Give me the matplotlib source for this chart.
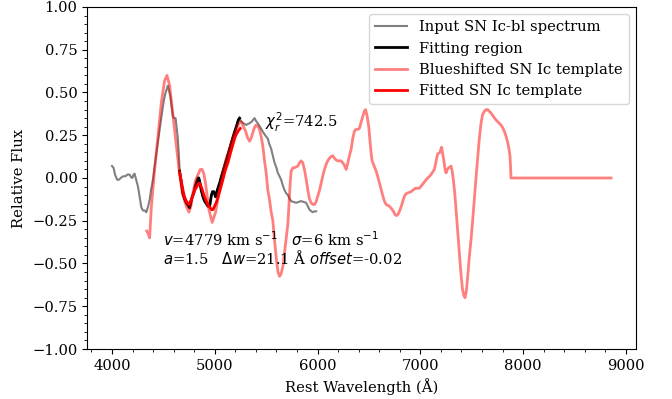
import numpy as np
import matplotlib
matplotlib.use("Agg")
import matplotlib.pyplot as plt
from matplotlib.ticker import MultipleLocator

plt.rcParams['font.family'] = 'DejaVu Serif'
plt.rcParams['font.size'] = 10.6

# input SN Ic-bl spectrum
input_wave = [4000, 4015, 4030, 4050, 4068, 4085, 4107, 4130, 4150, 4172, 4185, 4198, 4210, 4220,
              4235, 4253, 4269, 4285, 4301, 4318, 4334, 4350, 4366, 4380, 4398, 4420, 4447, 4470,
              4496, 4510, 4522, 4533, 4544, 4555, 4567, 4580, 4593, 4605, 4619, 4630, 4641, 4650,
              4658, 4668, 4680, 4690, 4705, 4723, 4740, 4755, 4765, 4780, 4794, 4810, 4825, 4836,
              4845, 4856, 4868, 4885, 4901, 4918, 4933, 4950, 4966, 4978, 4990, 5000, 5008, 5025,
              5047, 5070, 5095, 5120, 5144, 5168, 5193, 5215, 5230, 5241, 5257, 5280, 5306, 5320,
              5338, 5360, 5387, 5400, 5419, 5440, 5468, 5490, 5516, 5530, 5549, 5565, 5581, 5600,
              5613, 5630, 5646, 5660, 5678, 5695, 5711, 5727, 5743, 5765, 5792, 5815, 5840, 5865,
              5889, 5905, 5921, 5940, 5953, 5970, 5986]
input_flux = [0.07, 0.06, 0.02, -0.01, -0.01, 0.0, 0.01, 0.01, 0.02, 0.02, 0.005, 0.0, 0.02, 0.025,
              -0.01, -0.05, -0.11, -0.17, -0.19, -0.19, -0.2, -0.17, -0.13, -0.07, -0.01, 0.09, 0.21, 0.31,
              0.42, 0.47, 0.50, 0.52, 0.54, 0.51, 0.48, 0.42, 0.36, 0.35, 0.35, 0.29, 0.23, 0.14,
              0.04, 0.0, -0.05, -0.09, -0.12, -0.145, -0.16, -0.175, -0.15, -0.11, -0.09, -0.05, -0.02, 0.0,
              0.0, -0.03, -0.07, -0.11, -0.135, -0.15, -0.165, -0.165, -0.105, -0.08, -0.08, -0.095, -0.11, -0.07,
              -0.03, 0.02, 0.07, 0.12, 0.17, 0.22, 0.27, 0.31, 0.34, 0.35, 0.33, 0.32, 0.31, 0.315,
              0.32, 0.33, 0.35, 0.335, 0.32, 0.30, 0.27, 0.25, 0.23, 0.20, 0.17, 0.13, 0.09, 0.06,
              0.03, 0.01, -0.01, -0.04, -0.07, -0.09, -0.10, -0.12, -0.135, -0.14, -0.145, -0.14, -0.135, -0.14,
              -0.145, -0.165, -0.185, -0.195, -0.2, -0.195, -0.195]

# fitting region limits
fit_lo, fit_hi = 4658, 5241

# blueshifted SN Ic template
tmpl_wave = [4338, 4355, 4366, 4383, 4415, 4447, 4480, 4512, 4535, 4561, 4587, 4619, 4652, 4684,
             4723, 4749, 4770, 4787, 4810, 4836, 4860, 4878, 4895, 4910, 4943, 4975, 5008, 5040,
             5079, 5110, 5144, 5175, 5209, 5235, 5257, 5280, 5299, 5320, 5338, 5355, 5370, 5390,
             5403, 5420, 5435, 5452, 5468, 5484, 5500, 5516, 5532, 5549, 5565, 5581, 5600, 5615,
             5630, 5645, 5662, 5680, 5695, 5711, 5720, 5727, 5735, 5743, 5760, 5775, 5808, 5825,
             5840, 5856, 5872, 5890, 5905, 5920, 5937, 5955, 5970, 5985, 6002, 6020, 6035, 6050,
             6067, 6090, 6109, 6130, 6148, 6165, 6181, 6200, 6229, 6250, 6265, 6278, 6295, 6310,
             6327, 6342, 6359, 6375, 6395, 6407, 6425, 6440, 6455, 6466, 6480, 6490, 6498, 6510,
             6520, 6531, 6550, 6570, 6585, 6602, 6620, 6635, 6650, 6667, 6683, 6699, 6720, 6738,
             6755, 6770, 6785, 6803, 6820, 6835, 6850, 6867, 6890, 6910, 6930, 6951, 6970, 6990,
             7010, 7029, 7050, 7071, 7090, 7104, 7120, 7136, 7150, 7168, 7180, 7191, 7200, 7207,
             7215, 7227, 7240, 7250, 7262, 7275, 7290, 7298, 7310, 7321, 7335, 7347, 7365, 7380,
             7395, 7410, 7425, 7435, 7448, 7460, 7475, 7493, 7510, 7525, 7540, 7557, 7572, 7590,
             7605, 7622, 7640, 7655, 7670, 7687, 7710, 7735, 7760, 7784, 7800, 7816, 7833, 7849,
             7862, 7872, 7878, 7882, 8855]
tmpl_flux = [-0.31, -0.33, -0.35, -0.17, 0.05, 0.245, 0.44, 0.57, 0.60, 0.54, 0.40, 0.23, 0.05, -0.09,
             -0.165, -0.2, -0.16, -0.09, -0.02, 0.02, 0.05, 0.05, 0.02, -0.03, -0.185, -0.26, -0.2, -0.09,
             0.03, 0.11, 0.17, 0.23, 0.285, 0.32, 0.33, 0.30, 0.275, 0.235, 0.215, 0.235, 0.265, 0.30,
             0.31, 0.30, 0.285, 0.24, 0.185, 0.10, 0.03, -0.07, -0.125, -0.2, -0.25, -0.36, -0.48, -0.55,
             -0.575, -0.56, -0.52, -0.43, -0.36, -0.27, -0.17, -0.10, -0.02, 0.04, 0.06, 0.06, 0.07, 0.09,
             0.10, 0.09, 0.05, -0.01, -0.07, -0.12, -0.145, -0.155, -0.155, -0.14, -0.105, -0.07, -0.03, 0.01,
             0.05, 0.09, 0.11, 0.125, 0.13, 0.115, 0.105, 0.10, 0.10, 0.085, 0.07, 0.05, 0.09, 0.13,
             0.17, 0.23, 0.275, 0.285, 0.285, 0.29, 0.33, 0.36, 0.39, 0.40, 0.37, 0.33, 0.30, 0.22,
             0.15, 0.10, 0.07, 0.04, 0.01, -0.03, -0.07, -0.105, -0.135, -0.155, -0.16, -0.165, -0.18, -0.195,
             -0.215, -0.22, -0.21, -0.185, -0.155, -0.125, -0.10, -0.09, -0.085, -0.08, -0.07, -0.06, -0.06, -0.06,
             -0.045, -0.03, -0.015, 0.0, 0.01, 0.02, 0.035, 0.05, 0.09, 0.14, 0.145, 0.15, 0.17, 0.18,
             0.15, 0.11, 0.05, 0.03, 0.05, 0.06, 0.065, 0.07, 0.04, -0.01, -0.09, -0.185, -0.33, -0.45,
             -0.56, -0.65, -0.69, -0.70, -0.66, -0.58, -0.47, -0.36, -0.24, -0.125, -0.01, 0.11, 0.22, 0.32,
             0.37, 0.39, 0.40, 0.40, 0.39, 0.38, 0.36, 0.34, 0.325, 0.31, 0.295, 0.275, 0.245, 0.21,
             0.17, 0.13, 0.06, 0.0, 0.0]

# fitted SN Ic template (only over fitting region)
fit_wave = [4658, 4675, 4690, 4705, 4723, 4740, 4749, 4765, 4787, 4806, 4826, 4840, 4852, 4868,
            4884, 4900, 4917, 4935, 4956, 4970, 4982, 4998, 5014, 5030, 5047, 5063, 5079, 5100,
            5128, 5150, 5176, 5195, 5209, 5228, 5248]
fit_flux = [0.03, -0.02, -0.07, -0.11, -0.135, -0.15, -0.155, -0.135, -0.105, -0.07, -0.05, -0.035, -0.03, -0.05,
            -0.08, -0.11, -0.135, -0.16, -0.175, -0.185, -0.185, -0.165, -0.145, -0.115, -0.08, -0.045, -0.01, 0.04,
            0.09, 0.14, 0.195, 0.235, 0.255, 0.275, 0.29]

chi2_r = 742.5
vel, sigma, amp, dw, offset = 4779, 6, 1.5, 21.1, -0.02

input_wave = np.array(input_wave)
input_flux = np.array(input_flux)
infit = (input_wave >= fit_lo) & (input_wave <= fit_hi)

fig = plt.figure(figsize=(6.72, 3.99), dpi=100)
ax = fig.add_axes([0.1295, 0.1253, 0.8169, 0.8572])

ax.plot(input_wave, input_flux, color='gray', lw=1.5, label='Input SN Ic-bl spectrum')
ax.plot(input_wave[infit], input_flux[infit], color='k', lw=2, label='Fitting region')
ax.plot(tmpl_wave, tmpl_flux, color='red', alpha=0.5, lw=2, label='Blueshifted SN Ic template')
ax.plot(fit_wave, fit_flux, color='red', lw=2, label='Fitted SN Ic template')

ax.text(5490, 0.325, r'$\chi_r^2$=%.1f' % chi2_r, va='center')
ax.text(4500, -0.416,
        r'$v$=%d km s$^{-1}$   $\sigma$=%d km s$^{-1}$' % (vel, sigma) + '\n' +
        r'$a$=%.1f   $\Delta w$=%.1f Å $offset$=%.2f' % (amp, dw, offset),
        va='center', linespacing=1.0)

ax.set_ylim(-1, 1)
ax.yaxis.set_major_locator(MultipleLocator(0.25))
ax.yaxis.set_minor_locator(MultipleLocator(0.05))
ax.xaxis.set_minor_locator(MultipleLocator(200))
ax.set_xlabel('Rest Wavelength (Å)')
ax.set_ylabel('Relative Flux')
ax.legend(loc='upper right', handlelength=2.2)

fig.savefig('out.png', dpi=100)
